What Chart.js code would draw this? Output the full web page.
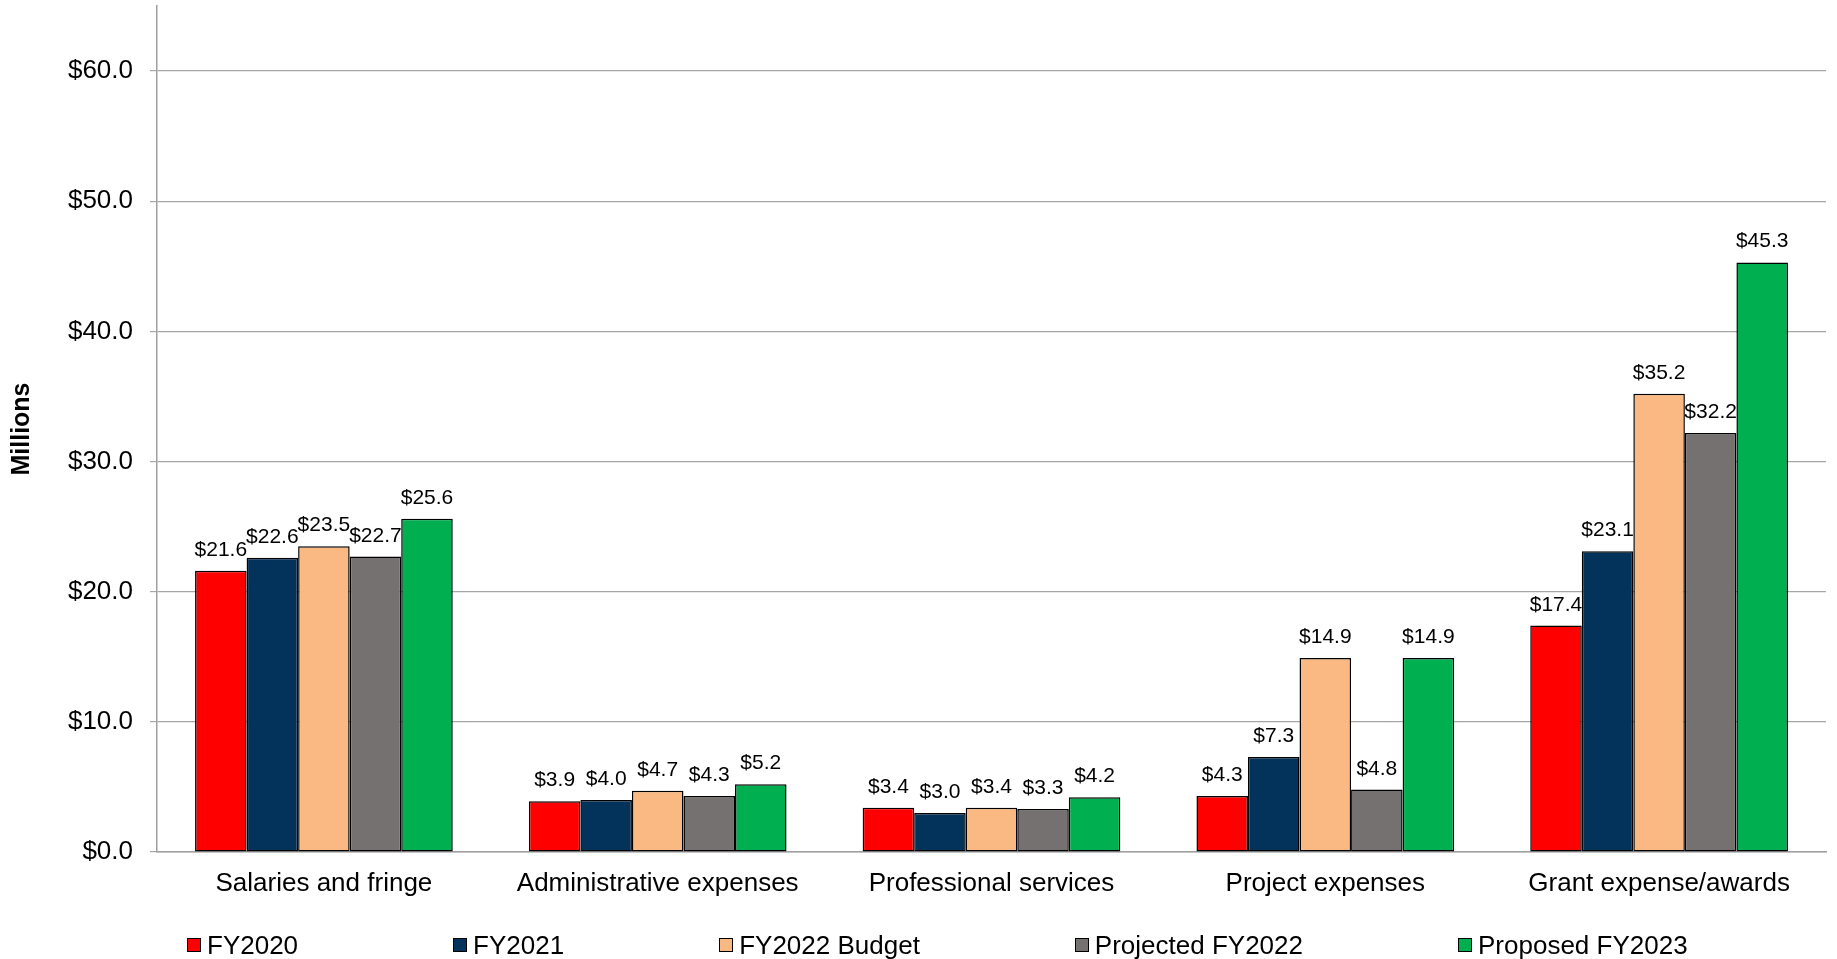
<!DOCTYPE html>
<html lang="en">
<head>
    <meta charset="UTF-8">
    <title>Expenses by category</title>
    <style>
        body {
            margin: 0;
            padding: 0;
            background: #fff;
            font-family: 'Liberation Sans', Arial, sans-serif;
        }
        .wrap {
            position: relative;
            width: 1837px;
            height: 959px;
        }
        .legend {
            position: absolute;
            left: 187px;
            top: 929px;
            display: flex;
            gap: 155px;
            font-size: 26px;
            line-height: 32px;
            color: #000;
        }
        .legend span.item {
            display: flex;
            align-items: center;
            white-space: nowrap;
        }
        .legend span.box {
            display: inline-block;
            width: 12px;
            height: 12px;
            border: 1px solid #000;
            margin-right: 6px;
        }
    </style>
</head>
<body>

    <div class="wrap">
        <canvas id="chart"></canvas>
        <div class="legend" id="legend"></div>
    </div>

    <script src="https://cdn.jsdelivr.net/npm/chart.js"></script>
    <script>
        const categories = ["Salaries and fringe", "Administrative expenses", "Professional services", "Project expenses", "Grant expense/awards"];
        const seriesNames = ["FY2020", "FY2021", "FY2022 Budget", "Projected FY2022", "Proposed FY2023"];
        const seriesColors = ["#FF0000", "#03325A", "#FAB982", "#767171", "#00B050"];

        const fy2020 = [21.6, 3.9, 3.4, 4.3, 17.4];
        const fy2021 = [22.6, 4.0, 3.0, 7.3, 23.1];
        const fy2022Budget = [23.5, 4.7, 3.4, 14.9, 35.2];
        const projectedFy2022 = [22.7, 4.3, 3.3, 4.8, 32.2];
        const proposedFy2023 = [25.6, 5.2, 4.2, 14.9, 45.3];

        const yTicks = [0, 10, 20, 30, 40, 50, 60];

        const seriesValues = [fy2020, fy2021, fy2022Budget, projectedFy2022, proposedFy2023];
        const fontFamily = "'Liberation Sans', Arial, sans-serif";

        // labels above each bar
        const barLabels = {
            id: "barLabels",
            afterDatasetsDraw(chart) {
                const ctx = chart.ctx;
                ctx.save();
                ctx.font = "21px " + fontFamily;
                ctx.fillStyle = "#000";
                ctx.textAlign = "center";
                ctx.textBaseline = "alphabetic";
                chart.data.datasets.forEach((ds, i) => {
                    chart.getDatasetMeta(i).data.forEach((bar, j) => {
                        ctx.fillText("$" + ds.data[j].toFixed(1), bar.x, bar.y - 15);
                    });
                });
                ctx.restore();
            }
        };

        const ctx = document.getElementById("chart").getContext("2d");
        new Chart(ctx, {
            type: "bar",
            data: {
                labels: categories,
                datasets: seriesNames.map((name, i) => ({
                    label: name,
                    data: seriesValues[i],
                    backgroundColor: seriesColors[i],
                    borderColor: "#000",
                    borderWidth: 1.5,
                    borderSkipped: false,
                    categoryPercentage: 0.772,
                    barPercentage: 1.0
                }))
            },
            options: {
                responsive: true,
                maintainAspectRatio: false,
                animation: false,
                layout: { padding: { top: 6, right: 11, left: 0, bottom: 0 } },
                plugins: {
                    legend: { display: false },
                    tooltip: { enabled: false }
                },
                scales: {
                    x: {
                        grid: { display: false, drawTicks: false },
                        border: { display: true, color: "#A0A0A0", width: 1.5 },
                        ticks: {
                            color: "#000",
                            padding: 16,
                            font: { family: fontFamily, size: 26 }
                        },
                        afterFit(scale) {
                            scale.height = 107;
                            scale.paddingLeft = 0;
                            scale.paddingRight = 0;
                        }
                    },
                    y: {
                        min: 0,
                        max: 65,
                        grid: { color: "#A6A6A6", lineWidth: 1.2, tickLength: 7 },
                        border: { display: true, color: "#A0A0A0", width: 1.5 },
                        title: {
                            display: true,
                            text: "Millions",
                            color: "#000",
                            padding: { top: 7, bottom: 0 },
                            font: { family: fontFamily, size: 25, weight: "bold" }
                        },
                        ticks: {
                            stepSize: 10,
                            color: "#000",
                            padding: 17,
                            font: { family: fontFamily, size: 26 },
                            callback: (v) => "$" + Number(v).toFixed(1)
                        },
                        afterBuildTicks(scale) {
                            scale.ticks = scale.ticks.filter(t => yTicks.includes(t.value));
                        },
                        afterFit(scale) {
                            scale.width = 157;
                            scale.paddingTop = 0;
                            scale.paddingBottom = 0;
                        }
                    }
                }
            },
            plugins: [barLabels]
        });

        const legend = document.getElementById("legend");
        seriesNames.forEach((name, i) => {
            const item = document.createElement("span");
            item.className = "item";
            const box = document.createElement("span");
            box.className = "box";
            box.style.background = seriesColors[i];
            item.appendChild(box);
            item.appendChild(document.createTextNode(name));
            legend.appendChild(item);
        });
    </script>

</body>
</html>
